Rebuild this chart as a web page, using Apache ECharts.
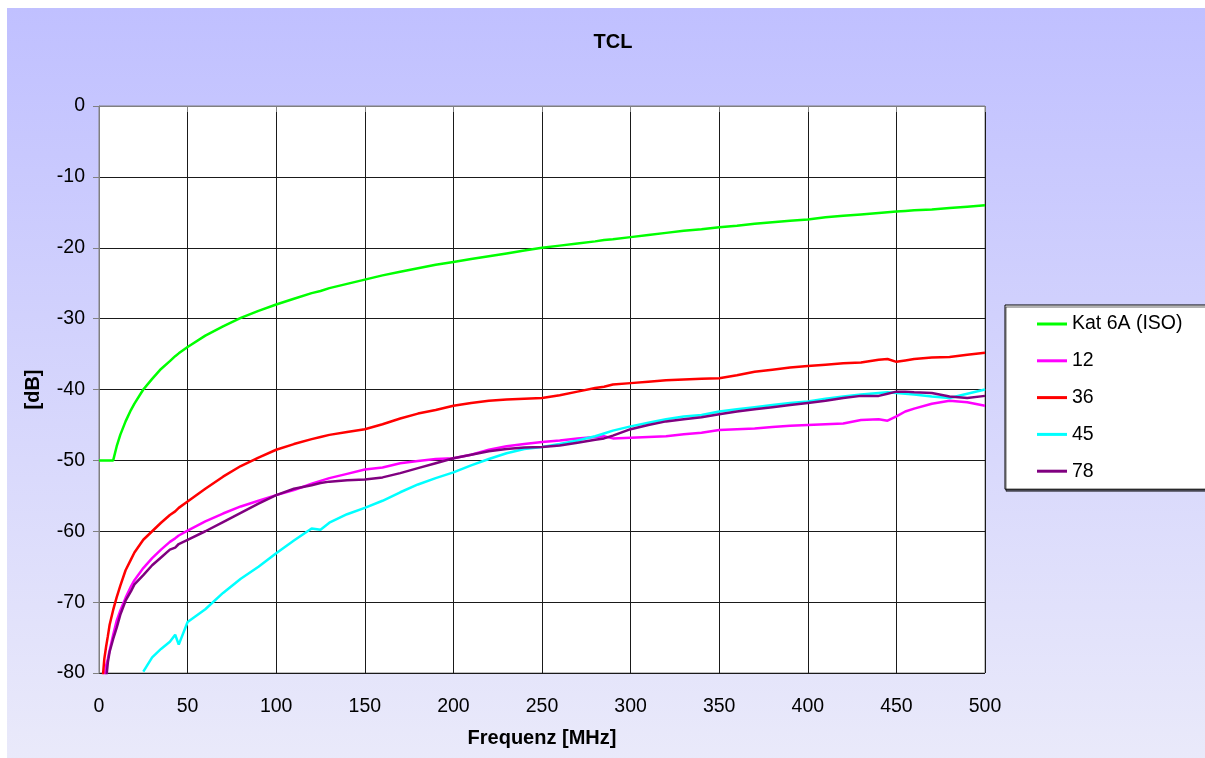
<!DOCTYPE html>
<html>
<head>
<meta charset="utf-8">
<script src="https://cdn.jsdelivr.net/npm/echarts@6/dist/echarts.min.js"></script>
<style>
html,body{margin:0;padding:0;background:#fff;}
#chart{width:1205px;height:758px;}
</style>
</head>
<body>
<div id="chart"></div>
<script>
const freq = [0, 2, 3, 4, 5, 6, 8, 10, 12, 15, 18, 20, 25, 30, 35, 40, 43, 45, 50, 60, 70, 80, 90, 100, 110, 120, 125, 130, 140, 150, 160, 170, 180, 190, 200, 210, 220, 230, 240, 250, 260, 270, 280, 285, 290, 300, 310, 320, 330, 340, 350, 360, 370, 380, 390, 400, 410, 420, 430, 440, 445, 450, 455, 460, 470, 480, 490, 500];

const kat6A = [-50, -50, -50, -50, -50, -50, -50, -48, -46.4, -44.5,
  -42.9, -42.0, -40.0, -38.5, -37.1, -36.0, -35.3, -34.9, -34.0, -32.4,
  -31.1, -29.9, -28.9, -28.0, -27.2, -26.4, -26.1, -25.7, -25.1, -24.5,
  -23.9, -23.4, -22.9, -22.4, -22.0, -21.6, -21.2, -20.8, -20.4, -20.0,
  -19.7, -19.4, -19.1, -18.9, -18.8, -18.5, -18.2, -17.9, -17.6, -17.4,
  -17.1, -16.9, -16.6, -16.4, -16.2, -16.0, -15.7, -15.5, -15.3, -15.1,
  -15.0, -14.9, -14.8, -14.7, -14.6, -14.4, -14.2, -14.0];

const pair12 = [null, null, -81, -79, -78, -76.8, -74.6, -72.6, -71.2, -69.4,
  -67.8, -66.9, -65.2, -63.8, -62.6, -61.5, -61.0, -60.6, -59.9, -58.6,
  -57.5, -56.5, -55.7, -54.9, -54.2, -53.3, -52.9, -52.5, -51.9, -51.3,
  -51.0, -50.4, -50.1, -49.8, -49.7, -49.2, -48.5, -48.0, -47.7, -47.4,
  -47.2, -46.9, -46.7, -46.6, -46.9, -46.8, -46.7, -46.6, -46.3, -46.1,
  -45.7, -45.6, -45.5, -45.3, -45.1, -45.0, -44.9, -44.8, -44.3, -44.2,
  -44.4, -43.8, -43.1, -42.7, -42.0, -41.6, -41.8, -42.3];

const pair36 = [null, -81, -78, -76.3, -74.8, -73.2, -71.1, -69.3, -67.7, -65.5,
  -64.0, -63.0, -61.2, -60.0, -58.8, -57.7, -57.2, -56.7, -55.8, -54.0,
  -52.3, -50.8, -49.6, -48.5, -47.7, -47.0, -46.7, -46.4, -46.0, -45.6,
  -44.9, -44.1, -43.4, -42.9, -42.3, -41.9, -41.6, -41.4, -41.3, -41.2,
  -40.8, -40.3, -39.8, -39.6, -39.3, -39.1, -38.9, -38.7, -38.6, -38.5,
  -38.4, -38.0, -37.5, -37.2, -36.9, -36.7, -36.5, -36.3, -36.2, -35.8,
  -35.7, -36.1, -35.9, -35.7, -35.5, -35.4, -35.1, -34.8];

const pair45 = [null, null, null, null, null, null, null, null, null, null,
  null, null, -79.8, -77.8, -76.6, -75.6, -74.6, -76.0, -72.8, -71.0,
  -68.7, -66.7, -65.0, -63.1, -61.3, -59.6, -59.8, -58.8, -57.6, -56.7,
  -55.7, -54.5, -53.4, -52.5, -51.7, -50.7, -49.8, -49.0, -48.4, -48.1,
  -47.7, -47.2, -46.6, -46.2, -45.8, -45.2, -44.7, -44.2, -43.8, -43.6,
  -43.1, -42.8, -42.5, -42.2, -41.9, -41.7, -41.3, -41.0, -40.7, -40.5,
  -40.4, -40.5, -40.6, -40.7, -41.0, -41.2, -40.6, -40.0];

const pair78 = [null, null, null, -81, -78.5, -77, -75.2, -73.6, -71.8, -69.8,
  -68.5, -67.5, -66.2, -64.8, -63.7, -62.6, -62.3, -61.8, -61.2, -60.0,
  -58.7, -57.4, -56.1, -54.9, -54.0, -53.5, -53.2, -53.0, -52.8, -52.7,
  -52.4, -51.8, -51.1, -50.4, -49.7, -49.2, -48.7, -48.4, -48.2, -48.1,
  -47.9, -47.5, -47.1, -46.9, -46.5, -45.6, -45.0, -44.5, -44.2, -43.9,
  -43.5, -43.1, -42.8, -42.5, -42.2, -41.9, -41.6, -41.2, -40.9, -40.9,
  -40.6, -40.3, -40.3, -40.4, -40.5, -41.0, -41.2, -40.9];

const seriesNames = ['Kat 6A (ISO)', '12', '36', '45', '78'];
const seriesValues = [kat6A, pair12, pair36, pair45, pair78];
const seriesColors = ['#00FF00', '#FF00FF', '#FF0000', '#00FFFF', '#800080'];
const xTicks = [0, 50, 100, 150, 200, 250, 300, 350, 400, 450, 500];
const yTicks = [-80, -70, -60, -50, -40, -30, -20, -10, 0];

const FONT = '"Liberation Sans", Arial, sans-serif';

function toPairs(vals) {
  const out = [];
  for (let i = 0; i < freq.length; i++) {
    if (vals[i] !== null) out.push([freq[i], vals[i]]);
  }
  return out;
}

const chart = echarts.init(document.getElementById('chart'), null, {renderer: 'canvas'});

const option = {
  animation: false,
  backgroundColor: '#ffffff',
  textStyle: {fontFamily: FONT},
  graphic: [{
    type: 'rect',
    z: -10,
    silent: true,
    shape: {x: 7, y: 8, width: 1220, height: 760},
    style: {
      fill: new echarts.graphic.LinearGradient(0, 0, 0, 1, [
        {offset: 0, color: '#C0C0FF'},
        {offset: 1, color: '#EAEAFA'}
      ])
    }
  }],
  title: {
    text: 'TCL',
    left: 613,
    top: 32,
    padding: 0,
    textAlign: 'center',
    textStyle: {fontFamily: FONT, fontSize: 20, fontWeight: 'bold', color: '#000'}
  },
  legend: {
    orient: 'vertical',
    left: 1005,
    top: 305,
    padding: [8, 40, 7, 32],
    itemGap: 14.8,
    itemWidth: 30,
    itemHeight: 3,
    icon: 'rect',
    backgroundColor: '#ffffff',
    borderColor: '#000',
    borderWidth: 1,
    shadowColor: 'rgba(0,0,0,0.6)',
    shadowOffsetX: 1,
    shadowOffsetY: 2,
    textStyle: {fontFamily: FONT, fontSize: 19.5, lineHeight: 22, color: '#000'},
    data: seriesNames
  },
  grid: {
    left: 99,
    top: 106,
    width: 886,
    height: 567,
    show: true,
    backgroundColor: '#ffffff',
    borderColor: '#808080',
    borderWidth: 1
  },
  xAxis: {
    type: 'value',
    min: xTicks[0],
    max: xTicks[xTicks.length - 1],
    interval: 50,
    name: 'Frequenz [MHz]',
    nameLocation: 'middle',
    nameGap: 55,
    nameTextStyle: {fontFamily: FONT, fontSize: 20, fontWeight: 'bold', color: '#000'},
    axisLine: {show: true, lineStyle: {color: '#808080', width: 1}},
    axisTick: {show: true, length: 6, lineStyle: {color: '#808080'}},
    axisLabel: {fontFamily: FONT, fontSize: 19.5, color: '#000', margin: 24},
    splitLine: {show: true, lineStyle: {color: '#1a1a1a', width: 1}}
  },
  yAxis: {
    type: 'value',
    min: yTicks[0],
    max: yTicks[yTicks.length - 1],
    interval: 10,
    name: '[dB]',
    nameLocation: 'middle',
    nameRotate: 90,
    nameGap: 56,
    nameTextStyle: {fontFamily: FONT, fontSize: 20, fontWeight: 'bold', color: '#000'},
    axisLine: {show: true, lineStyle: {color: '#808080', width: 1}},
    axisTick: {show: true, length: 6, lineStyle: {color: '#808080'}},
    axisLabel: {fontFamily: FONT, fontSize: 19.5, color: '#000', margin: 14},
    splitLine: {show: true, lineStyle: {color: '#1a1a1a', width: 1}}
  },
  series: seriesNames.map((name, i) => ({
    name: name,
    type: 'line',
    data: toPairs(seriesValues[i]),
    symbol: 'none',
    showSymbol: false,
    clip: true,
    lineStyle: {color: seriesColors[i], width: 2.5},
    itemStyle: {color: seriesColors[i]},
    z: 2 + i
  }))
};

chart.setOption(option);
</script>
</body>
</html>
